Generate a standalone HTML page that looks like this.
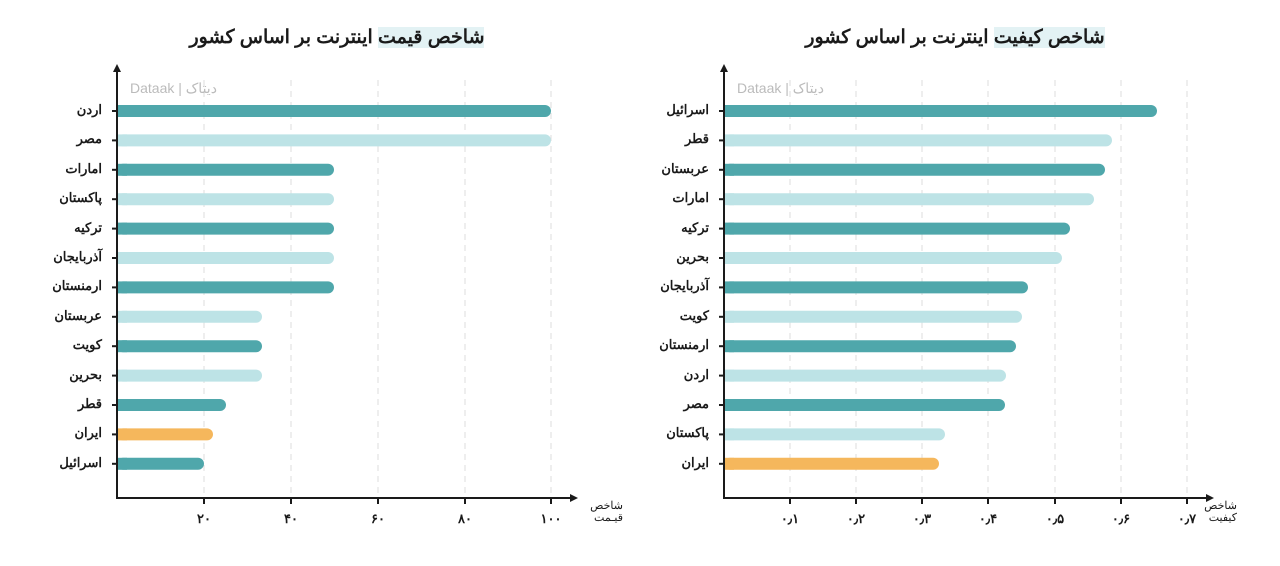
<!DOCTYPE html>
<html><head><meta charset="utf-8"><style>
body{margin:0;width:1280px;height:566px;background:#fff;position:relative;overflow:hidden;font-family:"Liberation Sans","Noto Sans CJK SC",sans-serif;color:#1a1a1a}
.t{position:absolute;white-space:nowrap;direction:rtl}
.title{font-size:19px;font-weight:bold;top:26px;width:400px;text-align:center}
.hl{background:#e3f2f4}
.lab{font-size:13px;font-weight:bold;width:90px;text-align:right}
.tick{font-size:13px;font-weight:bold;width:40px;text-align:center;top:511px}
.ax{font-size:11px;line-height:12px;text-align:right;width:40px}
.wm{font-size:14px;color:#bbb;direction:ltr}
</style></head><body>
<svg width="1280" height="566" style="position:absolute;left:0;top:0">
<g stroke="#ddd" stroke-width="1" stroke-dasharray="6,5">
<line x1="204" y1="80" x2="204" y2="498"/><line x1="291" y1="80" x2="291" y2="498"/><line x1="378" y1="80" x2="378" y2="498"/><line x1="465" y1="80" x2="465" y2="498"/><line x1="551" y1="80" x2="551" y2="498"/>
<line x1="790" y1="80" x2="790" y2="498"/><line x1="856" y1="80" x2="856" y2="498"/><line x1="922" y1="80" x2="922" y2="498"/><line x1="988" y1="80" x2="988" y2="498"/><line x1="1055" y1="80" x2="1055" y2="498"/><line x1="1121" y1="80" x2="1121" y2="498"/><line x1="1187" y1="80" x2="1187" y2="498"/>
</g>
<g id="bars"></g>
<g stroke="#1a1a1a" stroke-width="2" fill="none">
<line x1="117" y1="68" x2="117" y2="498"/><line x1="116" y1="498" x2="572" y2="498"/>
<line x1="724" y1="68" x2="724" y2="498"/><line x1="723" y1="498" x2="1208" y2="498"/>
</g>
<g fill="#1a1a1a">
<polygon points="117,64 113,72 121,72"/><polygon points="578,498 570,494 570,502"/>
<polygon points="724,64 720,72 728,72"/><polygon points="1214,498 1206,494 1206,502"/>
</g>
<g id="ticks" stroke="#1a1a1a" stroke-width="2"></g>
</svg>
<div class="t title" style="left:137px"><span class="hl">شاخص قیمت</span> اینترنت بر اساس کشور</div>
<div class="t title" style="left:755px"><span class="hl">شاخص کیفیت</span> اینترنت بر اساس کشور</div>
<div class="t wm" style="left:130px;top:80px">Dataak | دیتاک</div>
<div class="t wm" style="left:737px;top:80px">Dataak | دیتاک</div>
<div class="t ax" style="left:583px;top:500px">شاخص<br>قیـمت</div>
<div class="t ax" style="left:1197px;top:500px">شاخص<br>کیفیت</div>
<div id="labs"></div>
<script>
const D='#4fa7ab',L='#bde3e6',O='#f5b75c';
const left=[['اردن',551],['مصر',551],['امارات',334],['پاکستان',334],['ترکیه',334],['آذربایجان',334],['ارمنستان',334],['عربستان',262],['کویت',262],['بحرین',262],['قطر',226],['ایران',213],['اسرائیل',204]];
const right=[['اسرائیل',1157],['قطر',1112],['عربستان',1105],['امارات',1094],['ترکیه',1070],['بحرین',1062],['آذربایجان',1028],['کویت',1022],['ارمنستان',1016],['اردن',1006],['مصر',1005],['پاکستان',945],['ایران',939]];
let b='',tk='',lb='';
function draw(arr,x0){arr.forEach((r,i)=>{const y=111+i*29.4;const c=r[0]=='ایران'?O:(i%2?L:D);
b+=`<rect x="${x0}" y="${y-6}" width="${r[1]-x0}" height="12" rx="6" fill="${c}"/><rect x="${x0}" y="${y-6}" width="10" height="12" fill="${c}"/>`;
tk+=`<line x1="${x0-5}" y1="${y}" x2="${x0}" y2="${y}"/>`;
lb+=`<div class="t lab" style="left:${x0-105}px;top:${y-9}px">${r[0]}</div>`;});}
draw(left,117);draw(right,724);
[[204,'۲۰'],[291,'۴۰'],[378,'۶۰'],[465,'۸۰'],[551,'۱۰۰']].forEach(t=>{tk+=`<line x1="${t[0]}" y1="498" x2="${t[0]}" y2="504"/>`;lb+=`<div class="t tick" style="left:${t[0]-20}px">${t[1]}</div>`});
[[790,'۰٫۱'],[856,'۰٫۲'],[922,'۰٫۳'],[988,'۰٫۴'],[1055,'۰٫۵'],[1121,'۰٫۶'],[1187,'۰٫۷']].forEach(t=>{tk+=`<line x1="${t[0]}" y1="498" x2="${t[0]}" y2="504"/>`;lb+=`<div class="t tick" style="left:${t[0]-20}px">${t[1]}</div>`});
document.getElementById('bars').innerHTML=b;document.getElementById('ticks').innerHTML=tk;document.getElementById('labs').innerHTML=lb;
</script>
</body></html>
